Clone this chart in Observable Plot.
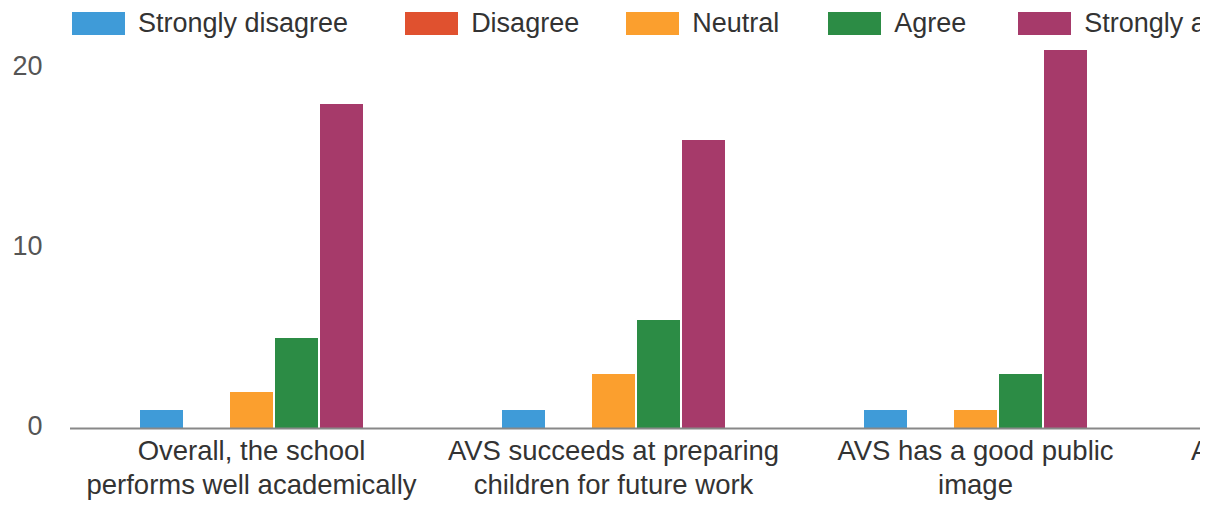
<!DOCTYPE html>
<html><head><meta charset="utf-8">
<script src="https://cdn.jsdelivr.net/npm/d3@7"></script>
<script src="https://cdn.jsdelivr.net/npm/@observablehq/plot@0.6"></script>
<style>
html,body{margin:0;padding:0;background:#fff;}
#wrap{width:1200px;height:508px;overflow:hidden;position:relative;font-family:"Liberation Sans",Arial,sans-serif;}
#legend{height:44px;display:flex;align-items:center;white-space:nowrap;padding-left:72px;padding-top:2px;box-sizing:border-box;}
.item{display:flex;align-items:center;flex:none;}
.sw{width:53px;height:23px;margin-right:13px;flex:none;}
.lab{font-size:27px;color:#333;line-height:1;}
#chart svg{display:block;overflow:visible;max-width:none !important;}
</style>
</head><body>
<div id="wrap"><div id="legend"></div><div id="chart"></div></div>
<script>
const categories = [
  "Overall, the school performs well academically",
  "AVS succeeds at preparing children for future work",
  "AVS has a good public image",
  "AVS communicates well with parents"
];
const tickLabels = [
  "Overall, the school\nperforms well academically",
  "AVS succeeds at preparing\nchildren for future work",
  "AVS has a good public\nimage",
  "AVS communicates well\nwith parents"
];
const responses = ["Strongly disagree", "Disagree", "Neutral", "Agree", "Strongly agree"];
const colors = ["#3f9bd8", "#e0512f", "#fb9f2e", "#2c8c45", "#a63a6a"];
// values for the first three (visible) statements
const stronglyDisagree = [1, 1, 1];
const disagree = [0, 0, 0];
const neutral = [2, 3, 1];
const agree = [5, 6, 3];
const stronglyAgree = [18, 16, 21];
const yTicks = [0, 10, 20];

const series = [stronglyDisagree, disagree, neutral, agree, stronglyAgree];
const data = [];
series.forEach((vals, si) => vals.forEach((v, ci) => data.push({category: categories[ci], response: responses[si], value: v})));

// legend
const legendGaps = [57, 47, 49, 52, 0];
const legend = d3.select("#legend");
responses.forEach((r, i) => {
  const it = legend.append("div").attr("class", "item").style("margin-right", legendGaps[i] + "px");
  it.append("div").attr("class", "sw").style("background", colors[i]);
  it.append("div").attr("class", "lab").text(r);
});

const chart = Plot.plot({
  width: 1518, height: 464,
  marginLeft: 70, marginRight: 0, marginTop: 6, marginBottom: 80,
  style: {fontFamily: "'Liberation Sans', Arial, sans-serif", background: "transparent", overflow: "visible", maxWidth: "none"},
  fx: {domain: categories, paddingInner: 0, paddingOuter: 0, label: null},
  x: {domain: responses, paddingInner: 0.055, paddingOuter: 1.506, axis: null},
  y: {domain: [0, 21], label: null},
  color: {domain: responses, range: colors},
  marks: [
    Plot.barY(data, {fx: "category", x: "response", y: "value", fill: "response"}),
    Plot.ruleY(categories, {fx: d => d, y: () => 0, stroke: "#888", strokeWidth: 2}),
    Plot.axisY({ticks: yTicks, tickSize: 0, tickPadding: 28, fontSize: 27, fill: "#555", dy: -2, label: null}),
    Plot.axisFx({anchor: "bottom", tickSize: 0, tickPadding: 7, fontSize: 27.5, fill: "#333", lineHeight: 1.24,
      tickFormat: d => tickLabels[categories.indexOf(d)], label: null})
  ]
});
document.getElementById("chart").appendChild(chart);
</script>
</body></html>
